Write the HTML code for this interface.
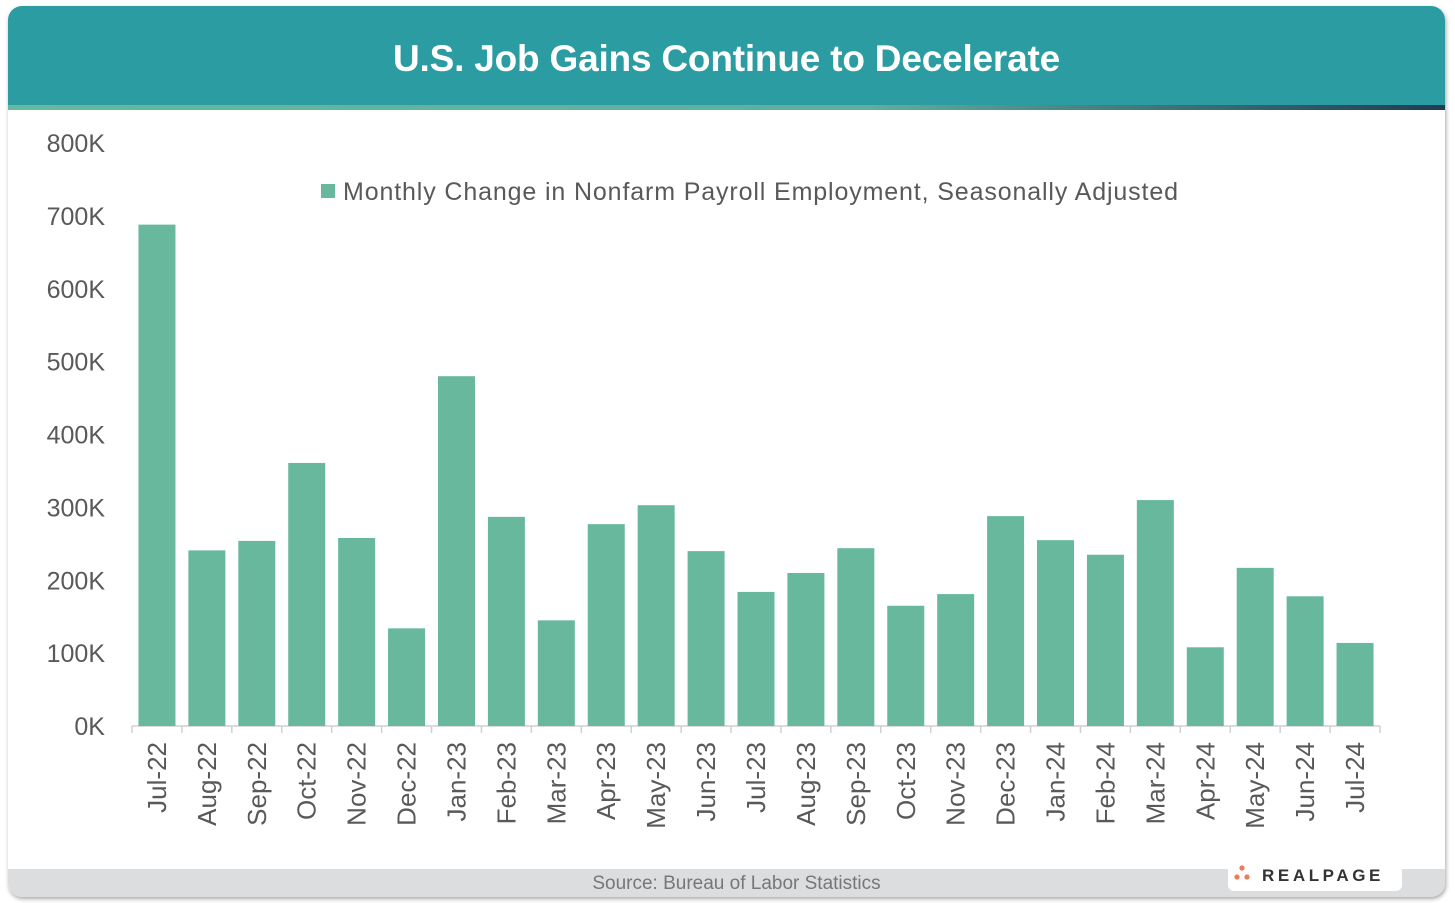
<!DOCTYPE html>
<html><head><meta charset="utf-8"><style>
html,body{margin:0;padding:0;background:#fff;}
body{width:1455px;height:903px;position:relative;overflow:hidden;font-family:"Liberation Sans",sans-serif;}
#card{position:absolute;left:8px;top:6px;width:1437px;height:891px;border-radius:14px;background:#fff;box-shadow:1px 2px 4px rgba(0,0,0,.35);overflow:hidden;}
#hdr{position:absolute;left:0;top:0;width:100%;height:99px;background:#2c9ca3;color:#fff;font-weight:bold;font-size:37px;text-align:center;line-height:106px;letter-spacing:-0.2px;}
#strip{position:absolute;left:0;top:99px;width:100%;height:5px;background:linear-gradient(90deg,#66b89e 0%,#5fae9e 60%,#1f3c55 100%);}
#foot{position:absolute;left:0;top:863px;width:100%;height:28px;background:#dcdddf;color:#777;font-size:19px;text-align:center;line-height:30px;}
#foot span{position:relative;left:10px;}
#logo{position:absolute;left:1220px;top:857px;width:174px;height:28px;background:#fff;border-radius:0 0 6px 6px;}
svg{position:absolute;left:0;top:0;}
</style></head><body>
<div id="card">
<div id="hdr">U.S. Job Gains Continue to Decelerate</div>
<div id="strip"></div>
<div id="foot"><span>Source: Bureau of Labor Statistics</span></div>
<div id="logo">
<svg width="174" height="28"><circle cx="14" cy="5" r="2.6" fill="#ee7a57"/><circle cx="9" cy="14" r="2.6" fill="#ee7a57"/><circle cx="19" cy="14" r="2.6" fill="#ee7a57"/>
<text x="34" y="18" font-size="17" font-weight="bold" fill="#333" letter-spacing="3.6" font-family="Liberation Sans,sans-serif">REALPAGE</text></svg></div>
</div>
<svg id="chart" width="1455" height="903"></svg>
<script>
const categories=["Jul-22","Aug-22","Sep-22","Oct-22","Nov-22","Dec-22","Jan-23","Feb-23","Mar-23","Apr-23","May-23","Jun-23","Jul-23","Aug-23","Sep-23","Oct-23","Nov-23","Dec-23","Jan-24","Feb-24","Mar-24","Apr-24","May-24","Jun-24","Jul-24"];
const values=[688,241,254,361,258,134,480,287,145,277,303,240,184,210,244,165,181,288,255,235,310,108,217,178,114];
const yTicks=[0,100,200,300,400,500,600,700,800];
const tickLabels=["0K","100K","200K","300K","400K","500K","600K","700K","800K"];
const NS="http://www.w3.org/2000/svg";
const svg=document.getElementById('chart');
const y0=726,yTop=143,yMax=800,x0=132,x1=1380;
const y=v=>y0-(v/yMax)*(y0-yTop);
const step=(x1-x0)/categories.length;
const x=i=>x0+step*i;
function mk(t,a){const e=document.createElementNS(NS,t);for(const k in a)e.setAttribute(k,a[k]);svg.appendChild(e);return e;}
yTicks.forEach((v,i)=>{const t=mk('text',{x:105,y:y(v)+9,'text-anchor':'end','font-size':25,fill:'#595959','font-family':'Liberation Sans,sans-serif'});t.textContent=tickLabels[i];

});
const ax=mk('line',{x1:x0,x2:x1,y1:y0,y2:y0,stroke:'#d0d0d0','stroke-width':1.5});


for(let i=0;i<=categories.length;i++){const tk=mk('line',{x1:x(i),x2:x(i),y1:y0,y2:y0+7,stroke:'#d0d0d0','stroke-width':1.5});

}
const bw=37;
categories.forEach((c,i)=>{const cx=x(i)+step/2;
const r=mk('rect',{x:cx-bw/2,y:y(values[i]),width:bw,height:y0-y(values[i]),fill:'#68b89e'});


const t=mk('text',{x:0,y:0,transform:`translate(${cx+9},${y0+16}) rotate(-90)`,'text-anchor':'end','font-size':26,fill:'#595959','font-family':'Liberation Sans,sans-serif'});t.textContent=c;

});
const lg=mk('rect',{x:321,y:184,width:14,height:14,fill:'#68b89e'});


const lt=mk('text',{x:343,y:200,'font-size':25,fill:'#595959','font-family':'Liberation Sans,sans-serif',textLength:835});
lt.textContent='Monthly Change in Nonfarm Payroll Employment, Seasonally Adjusted';


</script>
</body></html>
